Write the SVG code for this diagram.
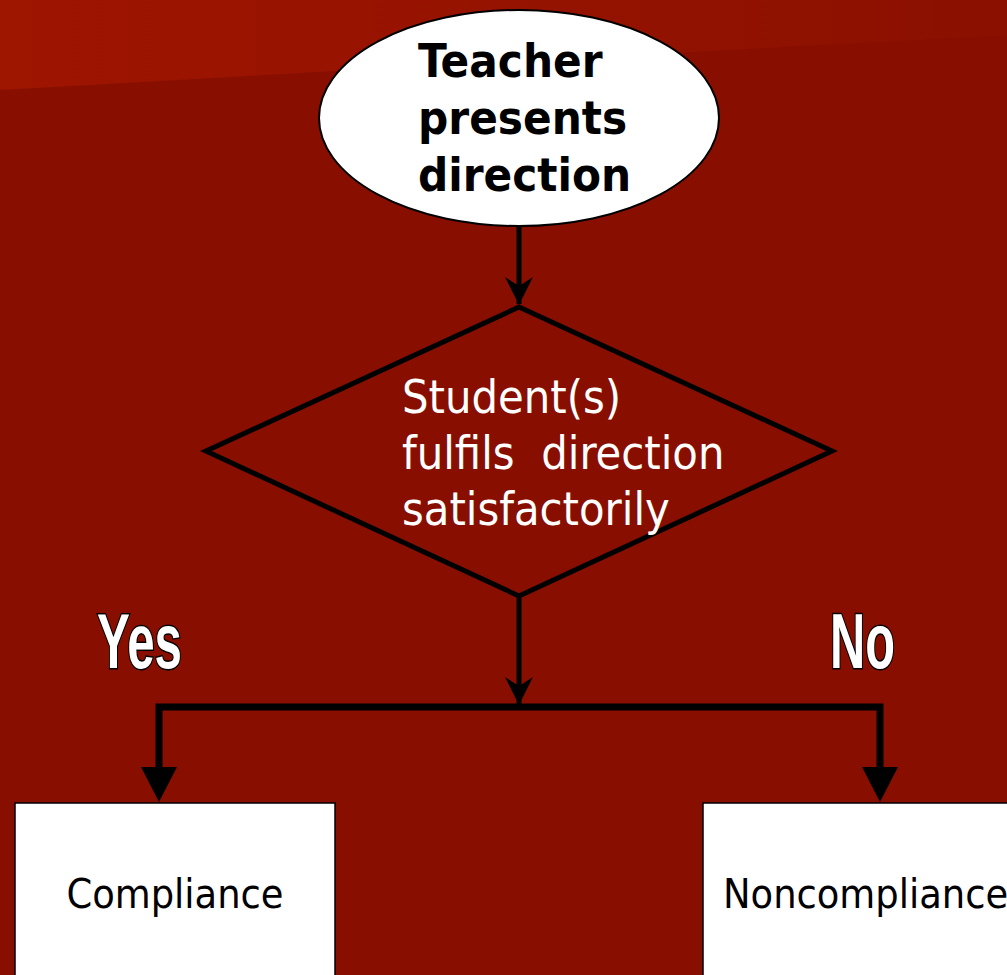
<svg xmlns="http://www.w3.org/2000/svg" width="1007" height="975" viewBox="0 0 1007 975">
<defs>
<linearGradient id="topband" x1="0" y1="0" x2="1" y2="0">
<stop offset="0" stop-color="#9e1500"/>
<stop offset="0.45" stop-color="#961300"/>
<stop offset="1" stop-color="#8b1000"/>
</linearGradient>
<marker id="barb" viewBox="0 0 28 28" refX="27" refY="14" markerWidth="28" markerHeight="28" markerUnits="userSpaceOnUse" orient="auto">
<path d="M0,0 L28,14 L0,28 L9,14 Z" fill="#000"/>
</marker>
<style>
.bg{fill:#880f00}
.line{fill:none;stroke:#000;stroke-width:5}
.thick{fill:none;stroke:#000;stroke-width:7}
.head{fill:#000}
.bold{font-family:'DejaVu Sans Condensed','DejaVu Sans',sans-serif;font-weight:bold;font-size:47px;fill:#000}
.dtext{font-family:'DejaVu Sans Condensed','DejaVu Sans',sans-serif;font-size:46.5px;fill:#fff;white-space:pre}
.btext{font-family:'DejaVu Sans Condensed','DejaVu Sans',sans-serif;font-size:41px;fill:#000}
.yn{font-family:'Liberation Sans Narrow','Liberation Sans',sans-serif;font-weight:bold;font-size:78px;fill:#fff;stroke:#000;stroke-width:3;paint-order:stroke}
</style>
</defs>
<rect class="bg" x="0" y="0" width="1007" height="975"/>
<polygon points="0,0 1007,0 1007,35 333,71 0,90" fill="url(#topband)"/>

<g id="connectors">
<line class="line" x1="519" y1="226" x2="519" y2="304" marker-end="url(#barb)"/>
<line class="line" x1="519" y1="596" x2="519" y2="704" marker-end="url(#barb)"/>
<polyline class="thick" points="159,772 159,707 880,707 880,772"/>
<polygon class="head" points="141,767 177,767 159,802"/>
<polygon class="head" points="862,767 898,767 880,802"/>
</g>

<g id="start">
<ellipse cx="519" cy="118" rx="200" ry="108" fill="#fff" stroke="#000" stroke-width="2"/>
<text class="bold" x="418" y="77">Teacher</text>
<text class="bold" x="418" y="134">presents</text>
<text class="bold" x="418" y="191">direction</text>
</g>

<g id="decision">
<polygon points="519,307 832,451 519,596 206,451" fill="none" stroke="#000" stroke-width="5"/>
<text class="dtext" x="402" y="413">Student(s)</text>
<text class="dtext" x="402" y="469">fulfils  direction</text>
<text class="dtext" x="402" y="525">satisfactorily</text>
</g>

<g id="label-yes">
<text class="yn" x="97" y="668" textLength="85" lengthAdjust="spacingAndGlyphs">Yes</text>
</g>
<g id="label-no">
<text class="yn" x="830" y="668" textLength="65" lengthAdjust="spacingAndGlyphs">No</text>
</g>

<g id="compliance">
<rect x="15" y="803" width="320" height="190" fill="#fff" stroke="#000" stroke-width="1.5"/>
<text class="btext" x="175" y="908" text-anchor="middle">Compliance</text>
</g>

<g id="noncompliance">
<rect x="703" y="803" width="330" height="190" fill="#fff" stroke="#000" stroke-width="1.5"/>
<text class="btext" x="723" y="908">Noncompliance</text>
</g>
</svg>
